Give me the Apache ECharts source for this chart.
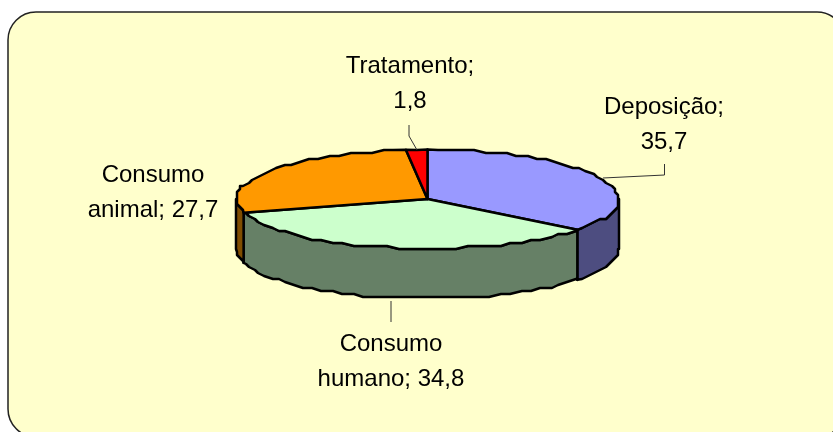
<!DOCTYPE html>
<html>
<head>
<meta charset="utf-8">
<style>html,body{margin:0;padding:0;background:#fff}#c{width:833px;height:432px}</style>
<script src="https://cdn.jsdelivr.net/npm/echarts@6/dist/echarts.min.js"></script>
</head>
<body>
<div id="c"></div>
<script>
// Data
var categories = ['Deposição', 'Consumo humano', 'Consumo animal', 'Tratamento'];
var values = [35.7, 34.8, 27.7, 1.8];
var labelLines = [
  ['Deposição;', '35,7'],
  ['Consumo', 'humano; 34,8'],
  ['Consumo', 'animal; 27,7'],
  ['Tratamento;', '1,8']
];
// Styles
var topColors = ['#9999FF', '#CCFFCC', '#FF9900', '#FF0000'];
var sideColors = ['#4D4D80', '#668066', '#804D00', '#800000'];
// Layout
var CX = 427.5, CY = 199, RX = 191.5, RY = 49.5, DEPTH = 50, STEP = 3.5, SNAP = 3;
var labelPos = [[664, 124.5], [391, 361.5], [153, 192.5], [410, 84]];
var leaders = [
  [[664.5, 164], [664.5, 175], [603, 178]],
  [[391, 301], [391, 322]],
  null,
  [[409, 125], [409, 136], [417, 150]]
];

var total = values.reduce(function (a, b) { return a + b; }, 0);
function pt(deg, dy) {
  var r = deg * Math.PI / 180;
  return [CX + RX * Math.sin(r), CY - RY * Math.cos(r) + (dy || 0)];
}
function snap(p) {
  return [Math.round(p[0] / SNAP) * SNAP, Math.round(p[1] / SNAP) * SNAP];
}
// Rim points between two clockwise angles: exact at ends, coarse between
function rim(a, b, dy) {
  var pts = [pt(a, dy)];
  var d = (Math.floor(a / STEP) + 1) * STEP;
  for (; d < b - 0.5; d += STEP) {
    pts.push(snap(pt(d, dy)));
  }
  pts.push(pt(b, dy));
  return pts;
}

function renderSlice(params, api) {
  var i = params.dataIndex;
  var before = 0;
  for (var k = 0; k < i; k++) before += values[k];
  var a0 = before / total * 360;
  var a1 = (before + api.value(0)) / total * 360;
  var children = [];
  var lineStyle = { stroke: '#000', lineWidth: 2.5, lineJoin: 'round' };

  // Side wall, only on the front half of the disc
  var s0 = Math.max(a0, 90), s1 = Math.min(a1, 270);
  if (s1 > s0) {
    var upper = rim(s0, s1, 0);
    var lower = rim(s0, s1, DEPTH).reverse();
    children.push({
      type: 'polygon',
      shape: { points: upper.concat(lower) },
      style: Object.assign({ fill: sideColors[i] }, lineStyle)
    });
  }
  // Top face
  children.push({
    type: 'polygon',
    shape: { points: [[CX, CY]].concat(rim(a0, a1, 0)) },
    style: Object.assign({ fill: topColors[i] }, lineStyle)
  });
  // Leader line
  if (leaders[i]) {
    children.push({
      type: 'polyline',
      shape: { points: leaders[i] },
      style: { stroke: '#333', lineWidth: 1, fill: null }
    });
  }
  // Label
  children.push({
    type: 'text',
    style: {
      text: labelLines[i].join('\n'),
      x: labelPos[i][0],
      y: labelPos[i][1],
      align: 'center',
      verticalAlign: 'middle',
      fontFamily: '"Liberation Sans", Arial, sans-serif',
      fontSize: 24,
      lineHeight: 35,
      fill: '#000'
    }
  });
  return { type: 'group', children: children };
}

var chart = echarts.init(document.getElementById('c'), null, { renderer: 'canvas' });
chart.setOption({
  animation: false,
  backgroundColor: '#fff',
  graphic: [{
    type: 'rect',
    z: 0,
    silent: true,
    shape: { x: 8, y: 12, width: 837, height: 425, r: 28 },
    style: { fill: '#FFFFCC', stroke: '#222', lineWidth: 1.5 }
  }],
  series: [{
    type: 'custom',
    coordinateSystem: 'none',
    silent: true,
    z: 5,
    data: values.map(function (v, i) { return { name: categories[i], value: [v] }; }),
    renderItem: renderSlice
  }]
});
</script>
</body>
</html>
